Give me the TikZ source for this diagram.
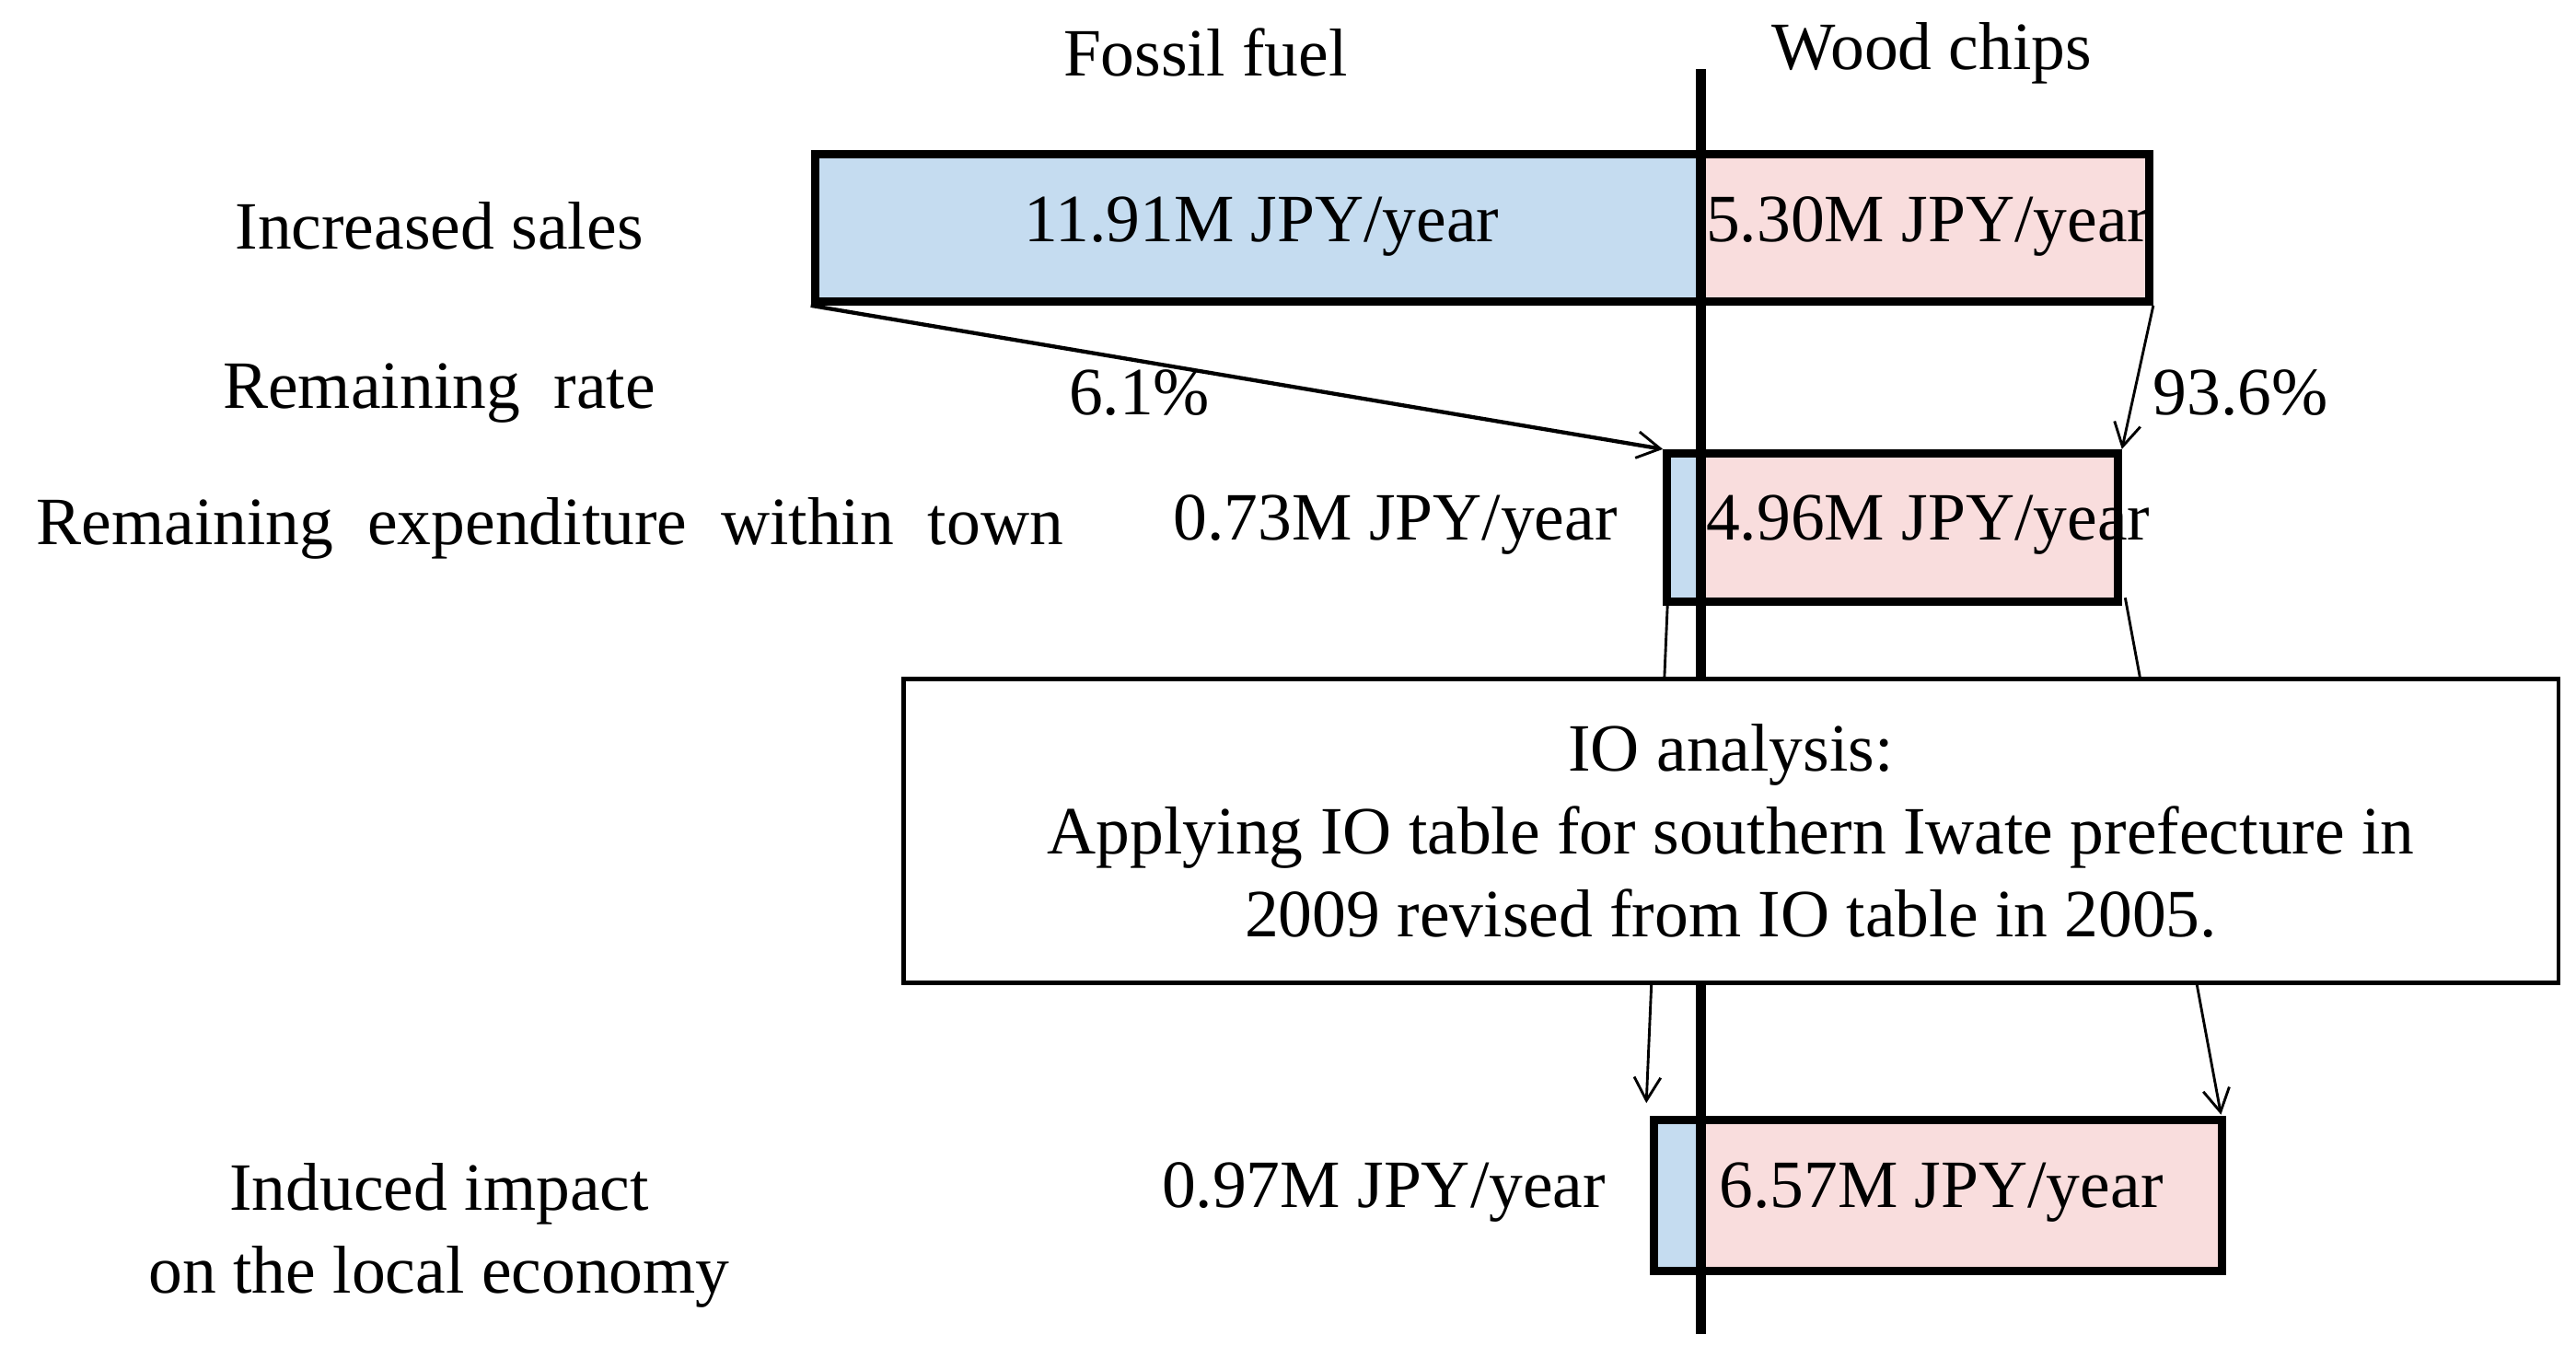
\documentclass[tikz,border=0pt]{standalone}
\usepackage{fontspec}
\setmainfont{Liberation Serif}
\usetikzlibrary{arrows.meta}
\definecolor{fblue}{RGB}{197,220,240}
\definecolor{fpink}{RGB}{249,221,221}
\begin{document}
\begin{tikzpicture}[x=1pt,y=-1pt,
  lbl/.style={font=\fontsize{41}{50}\selectfont, inner sep=0pt, align=center},
  barbox/.style={draw, line width=5pt, anchor=north west, inner sep=0pt},
  flow/.style={line width=1.6pt, -{Straight Barb[length=14pt,width=16pt,line width=1.6pt]}}]
\useasboundingbox (0,0) rectangle (1560,822);
% fills
\fill[fblue] (491,91) rectangle (1030,180);
\fill[fpink] (1030,91) rectangle (1299,180);
\fill[fblue] (1007,272) rectangle (1030,362);
\fill[fpink] (1030,272) rectangle (1280,362);
\fill[fblue] (999,676) rectangle (1030,767);
\fill[fpink] (1030,676) rectangle (1343,767);
% bars
\node[barbox, minimum width=808pt, minimum height=89pt] (b1) at (491,91) {};
\node[barbox, minimum width=273pt, minimum height=90pt] (b2) at (1007,272) {};
\node[barbox, minimum width=344pt, minimum height=91pt] (b3) at (999,676) {};
% central line
\draw[line width=6pt] (1030,42) -- (1030,808);
% connectors behind IO box
\coordinate (a3s) at (1010,362);
\coordinate (a3e) at (997,668);
\coordinate (a4s) at (1287,362);
\coordinate (a4e) at (1345,675);
\draw[flow] (a3s) -- (a3e);
\draw[flow] (a4s) -- (a4e);
\node[draw, fill=white, line width=2.5pt, minimum width=1002pt, minimum height=184pt, anchor=north west, inner sep=0pt] (io) at (546,410) {};
\node[lbl] at (io.center) {IO analysis:\\Applying IO table for southern Iwate prefecture in\\2009 revised from IO table in 2005.};
% top arrows
\draw[flow, line width=2.4pt] (b1.south west) -- (b2.north west);
\draw[flow] (b1.south east) -- (b2.north east);
% labels
\node[lbl] (ff) at (730,32) {Fossil fuel};
\node[lbl] (wc) at (1170,32) {Wood chips};
\node[lbl] at (266,137) {Increased sales};
\node[lbl] at (266,238) {Remaining\ \ rate};
\node[lbl] at (333,320) {Remaining\ \ expenditure\ \ within\ \ town};
\node[lbl] at (266,748) {Induced impact\\on the local economy};
\node[lbl] at (764,137) {11.91M JPY/year};
\node[lbl, anchor=west] at (1033,137) {5.30M JPY/year};
\node[lbl] at (690,238) {6.1\%};
\node[lbl] at (1357,238) {93.6\%};
\node[lbl] at (845,318) {0.73M JPY/year};
\node[lbl, anchor=west] at (1033,318) {4.96M JPY/year};
\node[lbl] at (838,722) {0.97M JPY/year};
\node[lbl, anchor=west] at (1041,722) {6.57M JPY/year};
\end{tikzpicture}
\end{document}
